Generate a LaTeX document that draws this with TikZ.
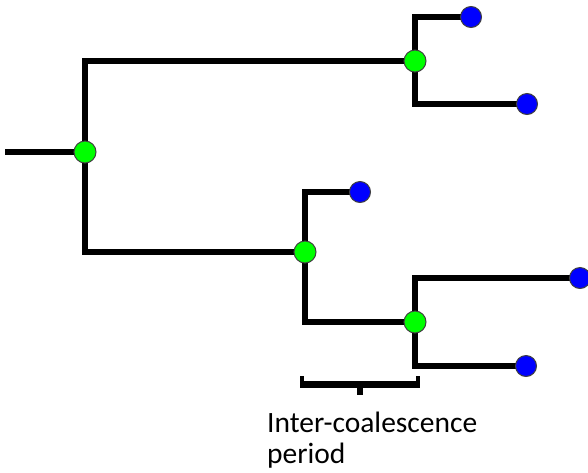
\documentclass[tikz,border=0pt]{standalone}
\usepackage{fontspec}
\setmainfont{Carlito}
\usetikzlibrary{positioning}
\tikzset{
    edge/.style={line width=6pt, line cap=rect, line join=miter},
    coal/.style={circle, fill=green, draw=black!75, line width=1pt, minimum size=22pt, inner sep=0pt},
    tip/.style={circle, fill=blue, draw=black!75, line width=1pt, minimum size=21pt, inner sep=0pt}
}

\begin{document}
\begin{tikzpicture}[x=1pt, y=-1pt]
        \useasboundingbox (0,0) rectangle (588,472);
        % points of the tree
        \coordinate (stem) at (8,152);
        \coordinate (root) at (85,152);
        \coordinate (upper) at (415,61);
        \coordinate (lower) at (305,252);
        \coordinate (inner) at (415,322);
        \coordinate (tipA) at (471,17);
        \coordinate (tipB) at (527,104);
        \coordinate (tipC) at (360,192);
        \coordinate (tipD) at (580,278);
        \coordinate (tipE) at (526,366);
        % show edges
        \draw[edge] (stem) -- (root);
        \draw[edge] (root) |- (upper);
        \draw[edge] (root) |- (lower);
        \draw[edge] (upper) |- (tipA);
        \draw[edge] (upper) |- (tipB);
        \draw[edge] (lower) |- (tipC);
        \draw[edge] (lower) |- (inner);
        \draw[edge] (inner) |- (tipD);
        \draw[edge] (inner) |- (tipE);
        % show points
        \foreach \p in {root,upper,lower,inner}
            \node[coal] (\p-dot) at (\p) {};
        \foreach \p in {tipA,tipB,tipC,tipD,tipE}
            \node[tip] (\p-dot) at (\p) {};
        % scale bar
        \coordinate (barL) at (302,384);
        \coordinate (barR) at (418,384);
        \coordinate (barM) at (360,384);
        \draw[line width=7pt] (barL) -- (barR);
        \draw[line width=4pt] ([yshift=8pt]barL) -- ([yshift=-3.5pt]barL);
        \draw[line width=4pt] ([yshift=8pt]barR) -- ([yshift=-3.5pt]barR);
        \draw[line width=6pt] (barM) -- ([yshift=-11pt]barM);
        % label
        \node[anchor=north west, align=left, inner sep=0pt,
              font=\fontsize{29.5}{31}\selectfont] (period) at (267,412)
            {Inter-coalescence\\period};
\end{tikzpicture}
\end{document}
